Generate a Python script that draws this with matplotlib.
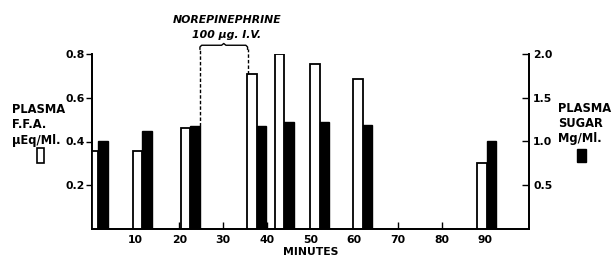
import matplotlib
matplotlib.use("Agg")
import matplotlib.pyplot as plt
import numpy as np
from matplotlib.patches import Rectangle

# Data (minutes, values)
ffa_x = [0.35, 10.45, 21.45, 36.65, 42.95, 51.05, 60.85, 89.25]
ffa_vals = [0.355, 0.355, 0.46, 0.71, 0.80, 0.755, 0.685, 0.30]
sugar_x = [2.5, 12.6, 23.6, 38.8, 45.1, 53.2, 63.0, 91.4]
sugar_vals = [1.01, 1.12, 1.18, 1.18, 1.22, 1.22, 1.19, 1.01]
x_ticks = [10, 20, 30, 40, 50, 60, 70, 80, 90]
ffa_ticks = [0.2, 0.4, 0.6, 0.8]
sugar_ticks = [0.5, 1.0, 1.5, 2.0]
inj_start, inj_end = 24.7, 35.6

plt.rcParams['font.family'] = ['DejaVu Sans']
plt.rcParams['font.weight'] = 'bold'

fig = plt.figure(figsize=(6.16, 2.6), dpi=100)
ax = fig.add_axes([92/616, 1-229/260, (529-92)/616, (229-54)/260])
ax2 = ax.twinx()

bw = 2.15
ax.bar(ffa_x, ffa_vals, width=bw, facecolor='white', edgecolor='black', linewidth=1.3, zorder=3)
ax2.bar(sugar_x, sugar_vals, width=bw, facecolor='black', edgecolor='black', linewidth=1.0, zorder=3)

ax.set_xlim(0, 100)
ax.set_ylim(0, 0.8)
ax2.set_ylim(0, 2.0)

for a in (ax, ax2):
    a.spines['top'].set_visible(False)
    for s in a.spines.values():
        s.set_linewidth(1.3)

ax.set_xticks(x_ticks)
ax.set_xticklabels([str(t) for t in x_ticks], fontsize=7.8, fontweight='bold')
ax.tick_params(axis='x', direction='in', length=5, width=1, pad=4)
ax.set_yticks(ffa_ticks)
ax.set_yticklabels([f"{t:.1f}" for t in ffa_ticks], fontsize=7.8, fontweight='bold')
ax.tick_params(axis='y', direction='out', length=4, width=1, pad=1)
ax2.set_yticks(sugar_ticks)
ax2.set_yticklabels([f"{t:.1f}" for t in sugar_ticks], fontsize=7.8, fontweight='bold')
ax2.tick_params(axis='y', direction='in', length=5, width=1, pad=3)

ax.set_xlabel("MINUTES", fontsize=7.8, fontweight='bold', labelpad=2)

# injection bracket
top = 0.822
ax.plot([inj_start, inj_start], [sugar_vals[2]/2.5, top],
        ls=(0, (2.5, 1.5)), color='black', lw=1.0, clip_on=False, zorder=4)
ax.plot([inj_end, inj_end], [ffa_vals[3], top],
        ls=(0, (2.5, 1.5)), color='black', lw=1.0, clip_on=False, zorder=4)
mid = (inj_start + inj_end) / 2
bx = [inj_start, inj_start, inj_start + 0.4, mid - 0.5, mid, mid + 0.5, inj_end - 0.4, inj_end, inj_end]
by = [top, 0.832, 0.840, 0.840, 0.848, 0.840, 0.840, 0.832, top]
ax.plot(bx, by, color='black', lw=1.0, clip_on=False, zorder=4)

fig.text(227/616, 1-20/260, "NOREPINEPHRINE", fontsize=7.8, fontweight='bold',
         style='italic', ha='center', va='center')
fig.text(227/616, 1-35/260, "100 \u00b5g. I.V.", fontsize=7.8, fontweight='bold',
         style='italic', ha='center', va='center')

# axis labels
fig.text(12/616, 1-103/260, "PLASMA\nF.F.A.\n\u00b5Eq/Ml.", fontsize=8.3, fontweight='bold',
         ha='left', va='top', linespacing=1.25)
fig.patches.append(Rectangle((37/616, 1-163/260), 7/616, 15/260, transform=fig.transFigure,
                             facecolor='white', edgecolor='black', lw=1.2))
fig.text(558/616, 1-102/260, "PLASMA\nSUGAR\nMg/Ml.", fontsize=8.3, fontweight='bold',
         ha='left', va='top', linespacing=1.2)
fig.patches.append(Rectangle((577/616, 1-162/260), 9/616, 13/260, transform=fig.transFigure,
                             facecolor='black', edgecolor='black', lw=1.0))

fig.savefig("out.png", dpi=100)
